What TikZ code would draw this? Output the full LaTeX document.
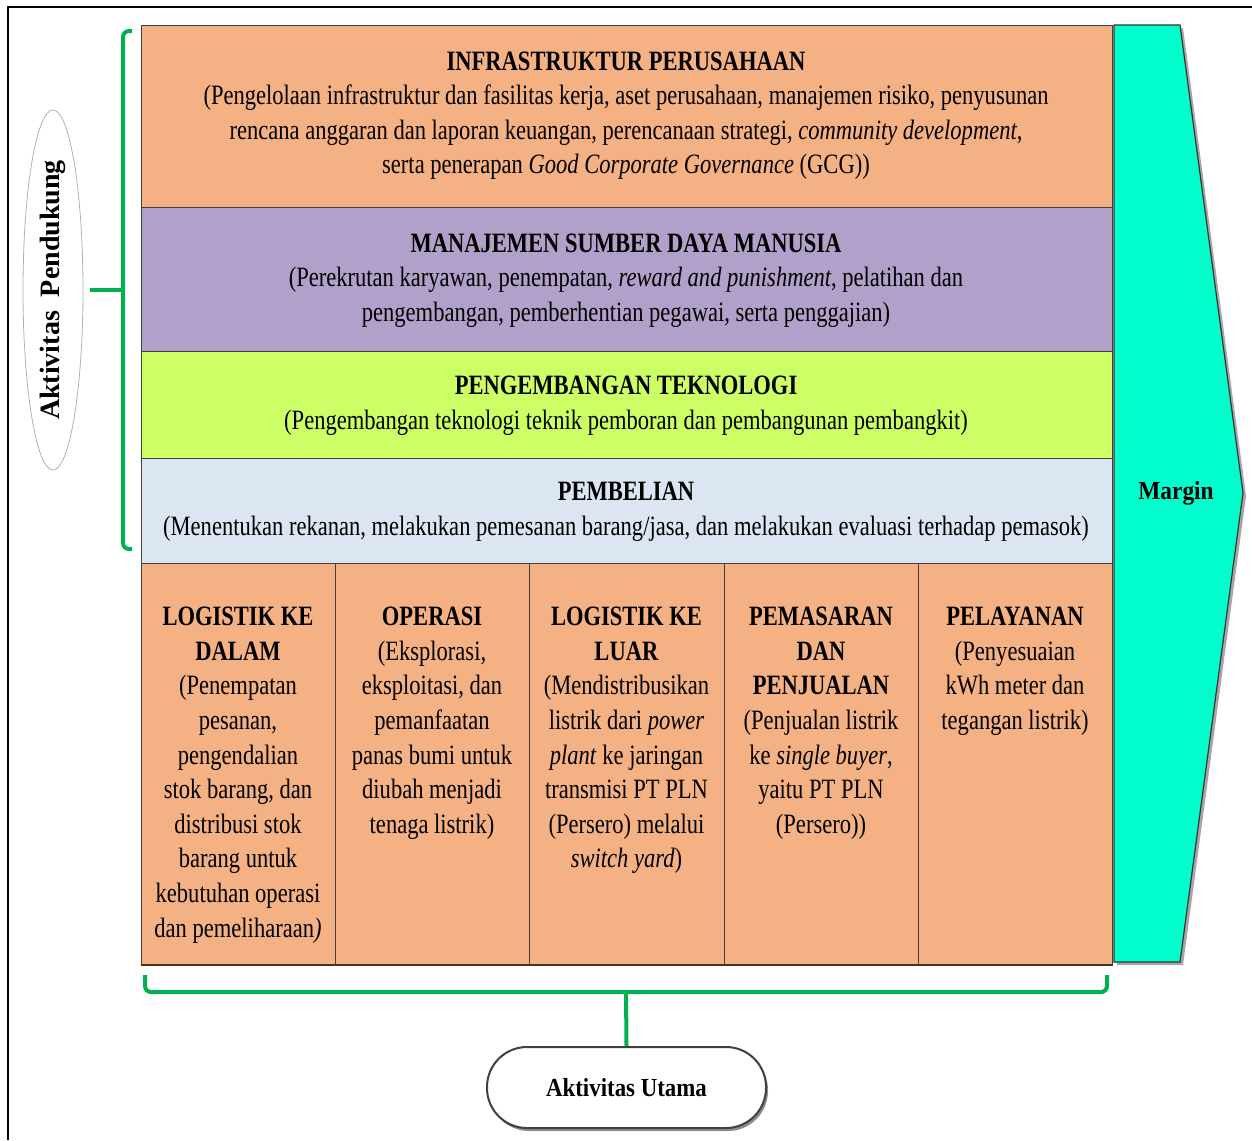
\documentclass[tikz,border=0pt]{standalone}
\usepackage{fontspec}
\usepackage{graphicx}
\setmainfont{Liberation Serif}
\usetikzlibrary{shapes.geometric}
\definecolor{orng}{HTML}{F4B183}
\definecolor{purp}{HTML}{B1A0C9}
\definecolor{lime}{HTML}{CCFF66}
\definecolor{lblue}{HTML}{DCE6F2}
\definecolor{aqua}{HTML}{00FFCC}
\definecolor{grn}{HTML}{00B050}
\newcommand{\xs}{0.805}
\newcommand{\cz}[1]{\scalebox{\xs}[1]{\begin{tabular}{@{}c@{}}#1\end{tabular}}}
\begin{document}
\begin{tikzpicture}[x=0.5pt,y=-0.5pt,
  txt/.style={inner sep=0pt, font=\fontsize{14}{17.3}\selectfont, align=center},
  band/.style={draw=black!75, line width=0.5pt},
  brace/.style={draw=grn, line width=2pt, rounded corners=3pt},
  colsep/.style={draw=black!75, line width=0.5pt}]
\useasboundingbox (0,0) rectangle (1252,1140);
\fill[white] (0,0) rectangle (1252,1140);
% outer frame
\draw[line width=1pt] (8,1140) -- (8,7) -- (1252,7);

% bands
\path[band, fill=orng] (141,25) rectangle (1112,207);
\path[band, fill=purp] (141,207) rectangle (1112,351);
\path[band, fill=lime] (141,351) rectangle (1112,458);
\path[band, fill=lblue] (141,458) rectangle (1112,563);
\path[band, fill=orng] (141,563) rectangle (1112,965);
\draw[draw=black!60!brown, line width=1.2pt] (141,965) -- (1112,965);
\foreach \x in {335,529,724,918} \draw[colsep] (\x,563) -- (\x,965);

% margin
\fill[black!35] (1117,28) -- (1183,28) -- (1246,496) -- (1183,965) -- (1117,965) -- cycle;
\path[draw=black!80, fill=aqua, line width=0.6pt] (1114,25) -- (1180,25) -- (1243,493) -- (1180,962) -- (1114,962) -- cycle;
\node[txt] (margin) at (1176,493) {\scalebox{0.9}[1]{\fontsize{13}{15}\selectfont\bfseries Margin}};

% band texts
\node[txt] (infra) at (626,115) {\cz{\textbf{INFRASTRUKTUR PERUSAHAAN}\\
(Pengelolaan infrastruktur dan fasilitas kerja, aset perusahaan, manajemen risiko, penyusunan\\
rencana anggaran dan laporan keuangan, perencanaan strategi, \textit{community development},\\
serta penerapan \textit{Good Corporate Governance} (GCG))}};
\node[txt] (msdm) at (626,280) {\cz{\textbf{MANAJEMEN SUMBER DAYA MANUSIA}\\
(Perekrutan karyawan, penempatan, \textit{reward and punishment}, pelatihan dan\\
pengembangan, pemberhentian pegawai, serta penggajian)}};
\node[txt] (tek) at (626,405) {\cz{\textbf{PENGEMBANGAN TEKNOLOGI}\\
(Pengembangan teknologi teknik pemboran dan pembangunan pembangkit)}};
\node[txt] (beli) at (626,511) {\cz{\textbf{PEMBELIAN}\\
(Menentukan rekanan, melakukan pemesanan barang/jasa, dan melakukan evaluasi terhadap pemasok)}};

% primary columns
\node[txt, anchor=north] (c1) at (238,601) {\cz{\textbf{LOGISTIK KE}\\ \textbf{DALAM}\\
(Penempatan\\ pesanan,\\ pengendalian\\ stok barang, dan\\ distribusi stok\\ barang untuk\\ kebutuhan operasi\\ dan pemeliharaan\textit{)}}};
\node[txt, anchor=north] (c2) at (432,601) {\cz{\textbf{OPERASI}\\
(Eksplorasi,\\ eksploitasi, dan\\ pemanfaatan\\ panas bumi untuk\\ diubah menjadi\\ tenaga listrik)}};
\node[txt, anchor=north] (c3) at (626.5,601) {\cz{\textbf{LOGISTIK KE}\\ \textbf{LUAR}\\
(Mendistribusikan\\ listrik dari \textit{power}\\ \textit{plant} ke jaringan\\ transmisi PT PLN\\ (Persero) melalui\\ \textit{switch yard})}};
\node[txt, anchor=north] (c4) at (821,601) {\cz{\textbf{PEMASARAN}\\ \textbf{DAN}\\ \textbf{PENJUALAN}\\
(Penjualan listrik\\ ke \textit{single buyer},\\ yaitu PT PLN\\ (Persero))}};
\node[txt, anchor=north] (c5) at (1015,601) {\cz{\textbf{PELAYANAN}\\
(Penyesuaian\\ kWh meter dan\\ tegangan listrik)}};

% left brace + ellipse
\coordinate (lbt) at (132,31);
\coordinate (lbb) at (132,549);
\coordinate (lbm) at (123,290);
\draw[brace] (lbt) -- (123,31) -- (123,549) -- (lbb);
\node[ellipse, draw=black!30, fill=white, minimum width=30pt, minimum height=180pt, inner sep=0pt] (pend) at (53,290) {};
\node[txt, rotate=90] at (pend.center) {\fontsize{14}{16}\selectfont\bfseries Aktivitas\ \ Pendukung};
\draw[grn, line width=2pt] (lbm) -- (pend.east -| 90,0);

% bottom brace + stadium
\coordinate (bbl) at (145,975);
\coordinate (bbr) at (1107,975);
\coordinate (bbm) at (626,992);
\draw[brace] (bbl) -- (145,992) -- (1107,992) -- (bbr);
\fill[black!45, rounded corners=20pt] (489,1050) rectangle (768,1131);
\node[draw=black!75, fill=white, line width=1pt, rounded corners=20pt, minimum width=139.5pt, minimum height=40.5pt, inner sep=0pt] (utama) at (626.5,1087.5) {};
\node[txt] at (utama.center) {\scalebox{0.88}[1]{\fontsize{13}{15}\selectfont\bfseries Aktivitas Utama}};
\draw[grn, line width=2pt] (bbm) -- (utama.north);
\end{tikzpicture}
\end{document}
